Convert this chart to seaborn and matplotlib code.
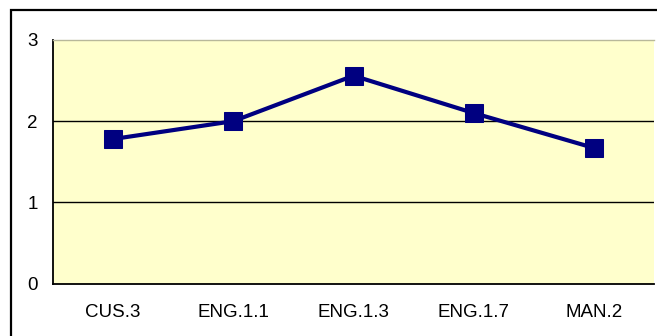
import matplotlib
matplotlib.use("Agg")
import matplotlib.pyplot as plt
import seaborn as sns
import pandas as pd
from matplotlib.patches import Rectangle
from matplotlib.ticker import FixedLocator

categories = ["CUS.3", "ENG.1.1", "ENG.1.3", "ENG.1.7", "MAN.2"]
values = [1.78, 2.0, 2.56, 2.1, 1.67]
y_ticks = [0, 1, 2, 3]

sns.set_theme(style="white")
plt.rcParams['font.family'] = ['Liberation Sans', 'DejaVu Sans']

df = pd.DataFrame({"cat": categories, "val": values})

fig = plt.figure(figsize=(6.57, 3.36), dpi=100)
ax = fig.add_axes([53/657, 1 - 283.5/336, (654 - 53)/657, (283.5 - 40)/336])
ax.set_facecolor("#FFFFCC")

for g in [1, 2]:
    ax.axhline(g, color="black", lw=1.0, zorder=1)

sns.lineplot(data=df, x="cat", y="val", sort=False, ax=ax, color="#000080",
             lw=3, marker="s", markersize=13, markeredgecolor="#000080",
             zorder=3)

ax.set_xlim(-0.5, len(categories) - 0.5)
ax.set_ylim(0, 3)
ax.set_yticks(y_ticks)
ax.set_yticklabels([str(t) for t in y_ticks], fontsize=13.5)
ax.set_xticks(range(len(categories)))
ax.set_xticklabels(categories, fontsize=13.5)
ax.xaxis.set_minor_locator(FixedLocator([i - 0.5 for i in range(len(categories) + 1)]))
ax.tick_params(axis="x", which="major", length=0, pad=15, colors="black")
ax.tick_params(axis="x", which="minor", length=6, width=1.2, color="black", direction="out")
ax.tick_params(axis="y", which="major", length=5, width=1.2, color="black", direction="out", pad=6)
ax.tick_params(axis="both", labelcolor="black")
ax.set_xlabel("")
ax.set_ylabel("")

for s in ["left", "bottom"]:
    ax.spines[s].set_color("black")
    ax.spines[s].set_linewidth(1.3)
    ax.spines[s].set_visible(True)
ax.spines["right"].set_visible(False)
ax.spines["top"].set_visible(True)
ax.spines["top"].set_color("#B8B89A")
ax.spines["top"].set_linewidth(1.0)

frame = Rectangle((11/657, -0.1), 1.0, 1 - 10/336 + 0.1, transform=fig.transFigure,
                  fill=False, edgecolor="black", lw=1.6)
fig.patches.append(frame)

fig.savefig("out.png", dpi=100, facecolor="white")
